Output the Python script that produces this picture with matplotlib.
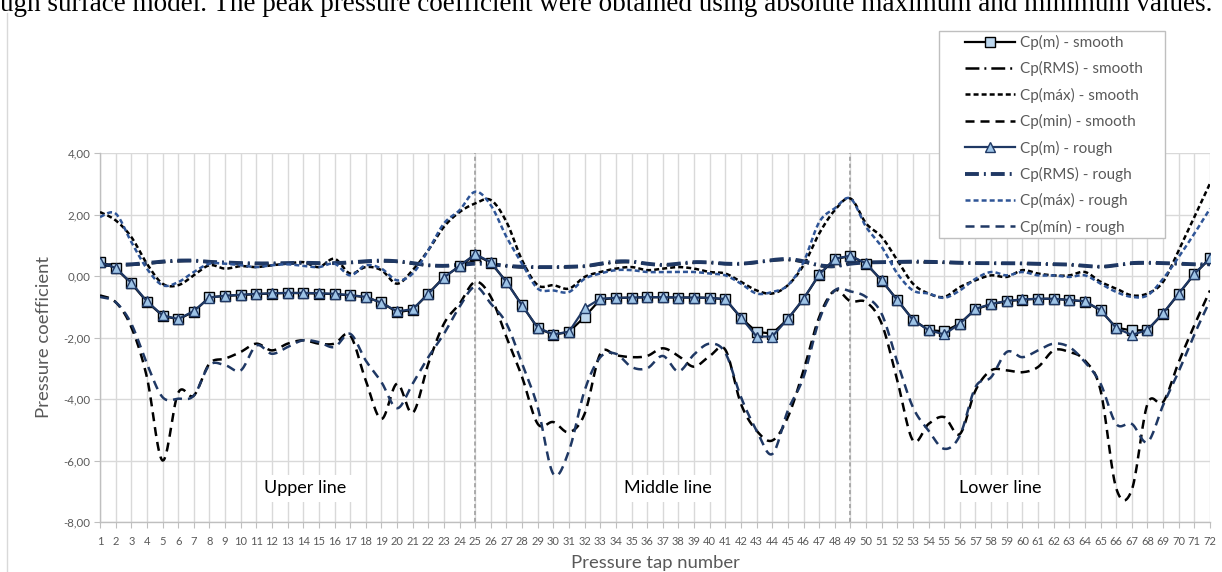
import numpy as np
import matplotlib

matplotlib.use("Agg")
import matplotlib.pyplot as plt
from matplotlib.lines import Line2D
from matplotlib.patches import Rectangle

# Pressure taps along the three measurement lines
taps = list(range(1, 73))
section_bounds = [25, 49]
section_names = ["Upper line", "Middle line", "Lower line"]
section_label_taps = [14.1, 37.3, 58.6]

cp_mean_smooth = [
    0.47, 0.25, -0.24, -0.84, -1.29, -1.41, -1.16, -0.69, -0.65, -0.62,
    -0.59, -0.57, -0.55, -0.56, -0.57, -0.59, -0.63, -0.69, -0.86, -1.18,
    -1.10, -0.57, -0.04, 0.32, 0.69, 0.43, -0.19, -0.95, -1.70, -1.91,
    -1.82, -1.33, -0.76, -0.72, -0.70, -0.69, -0.69, -0.70, -0.70, -0.71,
    -0.76, -1.36, -1.82, -1.87, -1.40, -0.75, 0.04, 0.55, 0.65, 0.40,
    -0.15, -0.78, -1.42, -1.76, -1.80, -1.55, -1.08, -0.92, -0.82, -0.77,
    -0.74, -0.74, -0.78, -0.83, -1.12, -1.68, -1.77, -1.76, -1.22, -0.58,
    0.06, 0.57,
]
cp_mean_rough = [
    0.45, 0.26, -0.22, -0.82, -1.28, -1.40, -1.14, -0.70, -0.64, -0.61,
    -0.58, -0.56, -0.55, -0.55, -0.56, -0.58, -0.62, -0.68, -0.87, -1.15,
    -1.08, -0.58, -0.05, 0.33, 0.71, 0.45, -0.20, -0.96, -1.68, -1.90,
    -1.81, -1.05, -0.74, -0.71, -0.70, -0.69, -0.69, -0.70, -0.70, -0.71,
    -0.75, -1.35, -1.97, -1.97, -1.39, -0.74, 0.05, 0.56, 0.66, 0.41,
    -0.14, -0.79, -1.43, -1.76, -1.90, -1.55, -1.07, -0.91, -0.81, -0.76,
    -0.74, -0.74, -0.78, -0.82, -1.11, -1.69, -1.92, -1.75, -1.21, -0.57,
    0.07, 0.58,
]
cp_rms_smooth = [
    0.33, 0.34, 0.36, 0.40, 0.45, 0.48, 0.49, 0.45, 0.43, 0.41,
    0.40, 0.40, 0.41, 0.42, 0.41, 0.41, 0.43, 0.46, 0.48, 0.46,
    0.40, 0.34, 0.33, 0.38, 0.46, 0.42, 0.32, 0.28, 0.28, 0.28,
    0.29, 0.31, 0.38, 0.44, 0.45, 0.39, 0.35, 0.39, 0.43, 0.43,
    0.39, 0.39, 0.43, 0.50, 0.52, 0.45, 0.33, 0.30, 0.42, 0.44,
    0.44, 0.45, 0.45, 0.44, 0.43, 0.42, 0.41, 0.41, 0.41, 0.40,
    0.39, 0.38, 0.36, 0.32, 0.30, 0.34, 0.40, 0.42, 0.41, 0.39,
    0.37, 0.37,
]
cp_rms_rough = [
    0.35, 0.36, 0.38, 0.42, 0.47, 0.50, 0.50, 0.46, 0.44, 0.42,
    0.41, 0.41, 0.42, 0.43, 0.42, 0.42, 0.44, 0.48, 0.50, 0.48,
    0.42, 0.35, 0.33, 0.36, 0.40, 0.38, 0.33, 0.30, 0.29, 0.29,
    0.30, 0.32, 0.40, 0.47, 0.47, 0.40, 0.36, 0.40, 0.45, 0.44,
    0.40, 0.40, 0.45, 0.52, 0.55, 0.48, 0.35, 0.32, 0.40, 0.44,
    0.45, 0.46, 0.47, 0.46, 0.45, 0.43, 0.42, 0.42, 0.42, 0.41,
    0.40, 0.39, 0.37, 0.33, 0.30, 0.35, 0.42, 0.43, 0.42, 0.40,
    0.38, 0.38,
]
cp_max_smooth = [
    2.08, 1.81, 1.27, 0.40, -0.25, -0.30, 0.02, 0.35, 0.24, 0.32,
    0.29, 0.35, 0.40, 0.45, 0.29, 0.56, 0.08, 0.29, 0.19, -0.25,
    0.19, 0.84, 1.60, 2.08, 2.36, 2.47, 1.76, 0.51, -0.30, -0.30,
    -0.41, -0.03, 0.13, 0.24, 0.29, 0.19, 0.24, 0.29, 0.24, 0.13,
    0.08, -0.19, -0.47, -0.57, -0.30, 0.35, 1.38, 2.14, 2.52, 1.71,
    1.27, 0.51, -0.25, -0.57, -0.68, -0.36, -0.14, 0.02, -0.03, 0.19,
    0.08, 0.02, 0.02, 0.13, -0.19, -0.41, -0.63, -0.57, -0.19, 0.84,
    1.92, 3.01,
]
cp_max_rough = [
    1.92, 2.03, 1.11, 0.24, -0.30, -0.20, 0.13, 0.40, 0.40, 0.35,
    0.29, 0.35, 0.38, 0.33, 0.29, 0.40, 0.02, 0.35, 0.24, -0.14,
    0.08, 0.84, 1.71, 2.14, 2.74, 2.30, 1.27, 0.40, -0.41, -0.47,
    -0.52, -0.09, 0.08, 0.19, 0.19, 0.13, 0.13, 0.13, 0.13, 0.08,
    0.02, -0.25, -0.57, -0.52, -0.30, 0.45, 1.75, 2.20, 2.52, 1.60,
    0.95, 0.08, -0.47, -0.57, -0.71, -0.47, -0.09, 0.13, 0.02, 0.13,
    0.02, 0.02, -0.03, 0.02, -0.25, -0.52, -0.68, -0.63, -0.09, 0.62,
    1.38, 2.19,
]
cp_min_smooth = [
    -0.63, -0.85, -1.66, -3.29, -6.00, -3.80, -3.89, -2.85, -2.69, -2.47,
    -2.20, -2.42, -2.20, -2.09, -2.20, -2.20, -1.93, -3.40, -4.65, -3.50,
    -4.45, -2.85, -1.55, -0.90, -0.19, -0.68, -1.99, -3.29, -4.81, -4.75,
    -5.08, -4.48, -2.53, -2.58, -2.64, -2.60, -2.35, -2.60, -2.95, -2.60,
    -2.40, -4.16, -5.03, -5.35, -4.59, -3.07, -1.34, -0.47, -0.82, -0.85,
    -1.55, -3.40, -5.35, -4.81, -4.59, -5.14, -3.72, -3.07, -3.07, -3.13,
    -2.96, -2.42, -2.47, -2.75, -3.72, -6.90, -6.95, -4.16, -4.10, -2.80,
    -1.60, -0.47,
]
cp_min_rough = [
    -0.68, -0.85, -1.55, -2.85, -3.94, -3.99, -3.89, -2.90, -2.90, -3.07,
    -2.26, -2.53, -2.31, -2.09, -2.15, -2.31, -1.88, -2.75, -3.45, -4.30,
    -3.50, -2.64, -1.88, -1.00, -0.35, -0.90, -1.55, -2.85, -4.27, -6.44,
    -5.68, -3.72, -2.64, -2.53, -2.96, -3.00, -2.60, -3.10, -2.55, -2.20,
    -2.50, -3.94, -5.03, -5.79, -4.37, -3.29, -1.44, -0.47, -0.50, -0.68,
    -1.23, -2.80, -4.27, -5.03, -5.62, -5.19, -3.61, -3.29, -2.47, -2.64,
    -2.42, -2.20, -2.31, -2.80, -3.50, -4.81, -4.81, -5.40, -4.20, -3.10,
    -1.90, -0.80,
]

NAVY = "#1F3864"
MID_BLUE = "#2F5597"
GRAY_TXT = "#595959"
GRID = "#D9D9D9"
W, H = 1222, 572

plt.rcParams["font.family"] = ["Lato", "DejaVu Sans"]
plt.rcParams["lines.scale_dashes"] = False


def smooth_curve(x, y, n=16):
    """Catmull-Rom curve through the points, like a spreadsheet 'smoothed line'."""
    x = np.asarray(x, float)
    y = np.asarray(y, float)
    px = np.concatenate([[x[0]], x, [x[-1]]])
    py = np.concatenate([[y[0]], y, [y[-1]]])
    t = np.linspace(0, 1, n, endpoint=False)[:, None]
    out = []
    for i in range(len(x) - 1):
        p = np.stack([px[i:i + 4], py[i:i + 4]], axis=1)
        p0, p1, p2, p3 = p
        seg = 0.5 * (2 * p1 + (-p0 + p2) * t
                     + (2 * p0 - 5 * p1 + 4 * p2 - p3) * t ** 2
                     + (-p0 + 3 * p1 - 3 * p2 + p3) * t ** 3)
        out.append(seg)
    out.append(np.array([[x[-1], y[-1]]]))
    out = np.vstack(out)
    return out[:, 0], out[:, 1]


fig = plt.figure(figsize=(W / 100, H / 100), dpi=100)
ax = fig.add_axes([100 / W, 50 / H, 1110 / W, 369 / H])

# spreadsheet-style series definitions (drawn in this order)
series = [
    dict(y=cp_mean_smooth, label="Cp(m) - smooth", color="black", lw=1.6,
         ls="-", marker="s", mfc="#BDD7EE", mec="black", smooth=False),
    dict(y=cp_rms_smooth, label="Cp(RMS) - smooth", color="black", lw=1.8,
         ls=(0, (10, 3.6, 1.4, 3.6)), smooth=True),
    dict(y=cp_max_smooth, label="Cp(máx) - smooth", color="black", lw=1.8,
         ls=(0, (3.6, 2.2)), smooth=True),
    dict(y=cp_min_smooth, label="Cp(min) - smooth", color="black", lw=1.8,
         ls=(0, (6.5, 4.3)), smooth=True),
    dict(y=cp_mean_rough, label="Cp(m) - rough", color=NAVY, lw=1.6,
         ls="-", marker="^", mfc="#9DC3E6", mec=NAVY, smooth=False),
    dict(y=cp_rms_rough, label="Cp(RMS) - rough", color=NAVY, lw=2.8,
         ls=(0, (10, 3.6, 1.4, 3.6)), smooth=True),
    dict(y=cp_max_rough, label="Cp(máx) - rough", color=MID_BLUE, lw=1.8,
         ls=(0, (3.6, 2.2)), smooth=True),
    dict(y=cp_min_rough, label="Cp(mín) - rough", color=NAVY, lw=1.8,
         ls=(0, (6.5, 4.3)), smooth=True),
]

handles = []
for s in series:
    if s["smooth"]:
        xs, ys = smooth_curve(taps, s["y"])
        ax.plot(xs, ys, color=s["color"], lw=s["lw"], ls=s["ls"], zorder=3)
        h = Line2D([], [], color=s["color"], lw=s["lw"], ls=s["ls"])
    else:
        ax.plot(taps, s["y"], color=s["color"], lw=s["lw"], ls=s["ls"],
                marker=s["marker"], ms=7.8, mfc=s["mfc"], mec=s["mec"],
                mew=1.0, zorder=4)
        h = Line2D([], [], color=s["color"], lw=s["lw"], marker=s["marker"],
                   ms=7.8, mfc=s["mfc"], mec=s["mec"], mew=1.0)
    handles.append(h)

for b in section_bounds:
    ax.axvline(b, color="#A6A6A6", lw=1.3, ls=(0, (3, 2)), zorder=2)

for name, xt in zip(section_names, section_label_taps):
    ax.text(xt, -6.9, name, ha="center", va="center", fontsize=13,
            color="black", zorder=5,
            bbox=dict(facecolor="white", edgecolor="none", pad=4))

ax.set_xlim(1, 72)
ax.set_ylim(-8, 4)
ax.set_xticks(taps)
ax.set_xticklabels([str(t) for t in taps])
yt = np.arange(-8, 4.1, 2)
ax.set_yticks(yt)
ax.set_yticklabels([f"{v:.2f}".replace(".", ",") for v in yt])
ax.grid(True, color=GRID, lw=1.0, zorder=0)
ax.set_axisbelow(True)
for side in ("top", "right"):
    ax.spines[side].set_visible(False)
for side in ("left", "bottom"):
    ax.spines[side].set_color("#BFBFBF")
    ax.spines[side].set_linewidth(1.0)
ax.tick_params(axis="x", labelsize=8, colors=GRAY_TXT, length=4,
               color="#BFBFBF", pad=6)
ax.tick_params(axis="y", labelsize=8.3, colors=GRAY_TXT, length=4,
               color="#BFBFBF", pad=3)
ax.set_xlabel("Pressure tap number", fontsize=13.3, color=GRAY_TXT, labelpad=6)
ax.set_ylabel("Pressure coefficient", fontsize=13.3, color=GRAY_TXT, labelpad=8)

# legend box with a wide left margin
fig.add_artist(Rectangle((939 / W, 1 - 238 / H), 226 / W, 207 / H,
                         transform=fig.transFigure, facecolor="white",
                         edgecolor="#BFBFBF", lw=1.0, zorder=4))
leg = fig.legend(handles, [s["label"] for s in series], loc="upper left",
                 bbox_to_anchor=(965 / W, 1 - 35 / H), fontsize=11,
                 frameon=False, handlelength=3.3, labelspacing=0.74,
                 borderpad=0.0, handletextpad=0.3, borderaxespad=0)
leg.set_zorder(6)
for t in leg.get_texts():
    t.set_color(GRAY_TXT)

# chart frame edge and the running text above it
fig.add_artist(Line2D([7 / W, 7 / W], [0, 1 - 13 / H],
                      color="#D9D9D9", lw=1.0))
fig.text(0, 1 - 11 / H,
         "ugh surface model. The peak pressure coefficient were obtained "
         "using absolute maximum and minimum values.",
         ha="left", va="baseline", fontsize=19.5,
         family=["Liberation Serif", "DejaVu Serif"], color="black")

fig.savefig("out.png", dpi=100)
plt.close(fig)
